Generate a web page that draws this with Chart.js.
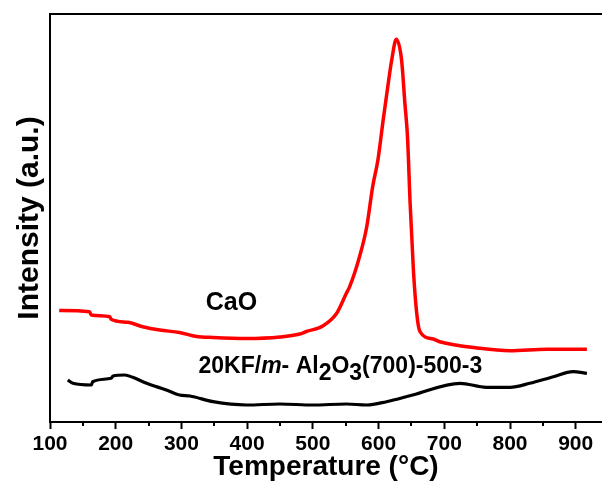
<!DOCTYPE html>
<html>
<head>
<meta charset="utf-8">
<script src="https://cdn.jsdelivr.net/npm/chart.js@4.4.0/dist/chart.umd.min.js"></script>
<style>
  html, body { margin: 0; padding: 0; background: #fff; }
</style>
</head>
<body>
<canvas id="myChart" width="602" height="487"></canvas>
<script>
// values: temperature in °C, intensity in arbitrary units
var caoTemp = [114, 160, 163, 191, 193, 218, 241, 267, 297, 323, 348, 399, 450, 480, 490, 515, 536, 551, 556, 571, 582, 591, 599, 607, 614, 620, 627, 635, 640, 644, 648, 653, 658, 663, 683, 693, 754, 800, 856, 917];
var caoIntensity = [111.5, 110.3, 107, 105.3, 102.7, 99.7, 95.3, 92, 89.5, 85.5, 84.5, 83.5, 85, 88, 90.5, 96, 108.5, 128.7, 135.3, 165.3, 195.3, 235.3, 262, 302, 335.3, 362, 382.7, 362, 319, 285.3, 219, 152, 109, 90.3, 83, 80.3, 73.7, 71.3, 72.7, 72.7];

var kfTemp = [127, 135, 163, 165, 193, 196, 214, 226, 247, 277, 297, 313, 348, 399, 450, 500, 551, 582, 612, 652, 724, 764, 800, 830, 866, 896, 917];
var kfIntensity = [42, 38.7, 37, 40.3, 43.7, 46, 47, 44.7, 38.7, 32, 27, 26, 20.3, 17, 18, 17, 18, 17, 20.3, 27, 38.7, 34.7, 34.7, 38.7, 45.3, 50.3, 48.7];

var majorTicks = [100, 200, 300, 400, 500, 600, 700, 800, 900];
var minorTicks = [150, 250, 350, 450, 550, 650, 750, 850];

var fontFamily = "'Liberation Sans', Arial, sans-serif";

function toPoints(xs, ys) {
    return xs.map(function (x, i) {
        return { x: x, y: ys[i] };
    });
}

// short minor ticks under the x axis
var minorTickPlugin = {
    id: 'minorTicks',
    afterDraw: function (chart) {
        var ctx = chart.ctx;
        var xs = chart.scales.x;
        ctx.save();
        ctx.strokeStyle = '#000';
        ctx.lineWidth = 2;
        minorTicks.forEach(function (v) {
            var px = Math.round(xs.getPixelForValue(v));
            ctx.beginPath();
            ctx.moveTo(px, xs.top);
            ctx.lineTo(px, xs.top + 4);
            ctx.stroke();
        });
        ctx.restore();
    }
};

// sample labels placed in data coordinates
var labelPlugin = {
    id: 'sampleLabels',
    afterDatasetsDraw: function (chart) {
        var ctx = chart.ctx;
        var xs = chart.scales.x;
        var ys = chart.scales.y;
        ctx.save();
        ctx.fillStyle = '#000';
        ctx.textBaseline = 'alphabetic';

        ctx.font = 'bold 25px ' + fontFamily;
        ctx.textAlign = 'center';
        ctx.fillText('CaO', xs.getPixelForValue(376), ys.getPixelForValue(112));

        var parts = [
            { t: '20KF/', style: 'bold', dy: 0 },
            { t: 'm', style: 'italic bold', dy: 0 },
            { t: '- Al', style: 'bold', dy: 0 },
            { t: '2', style: 'bold', dy: 7 },
            { t: 'O', style: 'bold', dy: 0 },
            { t: '3', style: 'bold', dy: 7 },
            { t: '(700)-500-3', style: 'bold', dy: 0 }
        ];
        var x = xs.getPixelForValue(326);
        var y = ys.getPixelForValue(49);
        ctx.textAlign = 'left';
        parts.forEach(function (p) {
            ctx.font = p.style + ' 23px ' + fontFamily;
            ctx.fillText(p.t, x, y + p.dy);
            x += ctx.measureText(p.t).width;
        });
        ctx.restore();
    }
};

var ctx = document.getElementById('myChart').getContext('2d');

var chart = new Chart(ctx, {
    type: 'line',
    data: {
        datasets: [
            {
                label: 'CaO',
                data: toPoints(caoTemp, caoIntensity),
                borderColor: '#ff0000',
                borderWidth: 3.5,
                pointRadius: 0,
                cubicInterpolationMode: 'monotone',
                fill: false
            },
            {
                label: '20KF/m-Al2O3(700)-500-3',
                data: toPoints(kfTemp, kfIntensity),
                borderColor: '#000000',
                borderWidth: 3.2,
                pointRadius: 0,
                cubicInterpolationMode: 'monotone',
                fill: false
            }
        ]
    },
    options: {
        responsive: false,
        animation: false,
        layout: { padding: { top: 14, right: 0, bottom: 0, left: 0 } },
        plugins: {
            legend: { display: false },
            tooltip: { enabled: false }
        },
        scales: {
            x: {
                type: 'linear',
                position: 'bottom',
                min: 100,
                max: 940,
                afterBuildTicks: function (scale) {
                    scale.ticks = majorTicks.map(function (v) { return { value: v }; });
                },
                afterFit: function (scale) { scale.height = 65; },
                ticks: {
                    autoSkip: false,
                    maxRotation: 0,
                    padding: 3,
                    color: '#000',
                    font: { family: fontFamily, size: 21, weight: 'bold' }
                },
                grid: {
                    drawOnChartArea: false,
                    drawTicks: true,
                    tickLength: 7,
                    tickWidth: 2,
                    tickColor: '#000'
                },
                border: { display: true, color: '#000', width: 2 },
                title: {
                    display: true,
                    text: 'Temperature (°C)',
                    color: '#000',
                    font: { family: fontFamily, size: 28, weight: 'bold', lineHeight: 1.1 },
                    padding: { top: 0, bottom: 4 }
                }
            },
            xTop: {
                type: 'linear',
                position: 'top',
                min: 100,
                max: 940,
                afterFit: function (scale) { scale.height = 0; },
                ticks: { display: false },
                grid: { display: false },
                border: { display: true, color: '#000', width: 2 }
            },
            y: {
                min: 0,
                max: 408,
                afterFit: function (scale) { scale.width = 50; },
                ticks: { display: false },
                grid: { display: false },
                border: { display: true, color: '#000', width: 2 },
                title: {
                    display: true,
                    text: 'Intensity (a.u.)',
                    color: '#000',
                    font: { family: fontFamily, size: 30, weight: 'bold', lineHeight: 1.1 },
                    padding: { top: 13, bottom: 0 }
                }
            }
        }
    },
    plugins: [minorTickPlugin, labelPlugin]
});
</script>
</body>
</html>
